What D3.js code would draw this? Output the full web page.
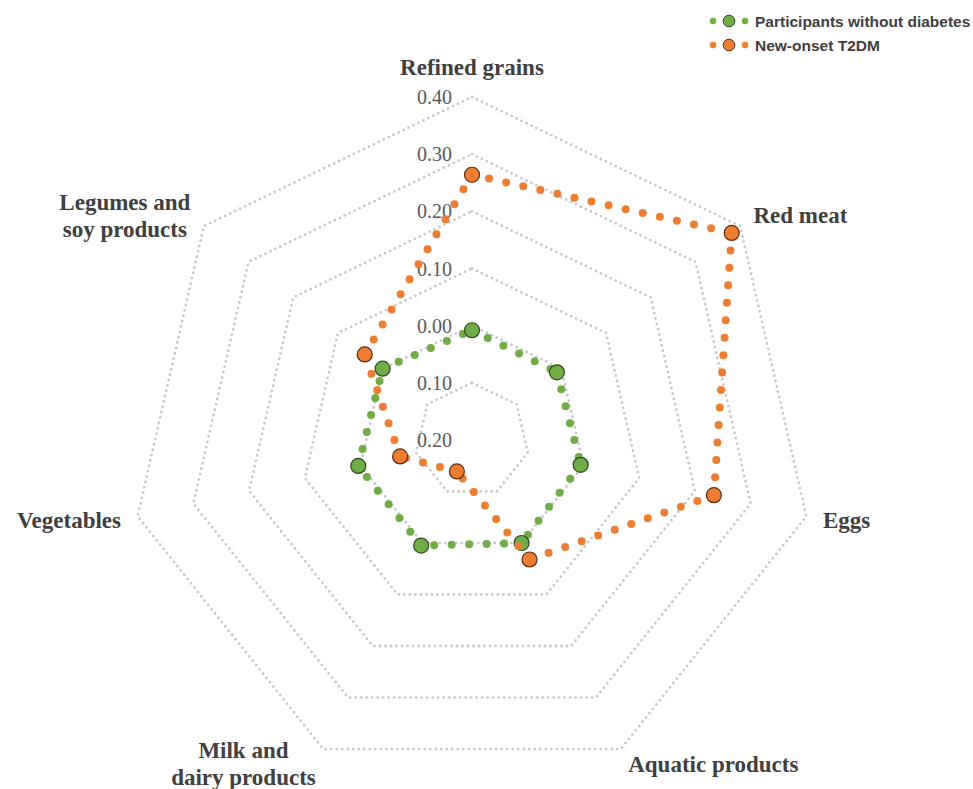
<!DOCTYPE html>
<html>
<head>
<meta charset="utf-8">
<title>Dietary radar</title>
<script src="https://d3js.org/d3.v7.min.js"></script>
<style>
    body { margin: 0; background: #fff; }
    .cat { font-family: "Liberation Serif", "Times New Roman", serif; font-weight: bold; font-size: 23px; fill: #404040; }
    .tick { font-family: "Liberation Serif", "Times New Roman", serif; font-size: 20px; fill: #595959; }
    .legend text { font-family: "Liberation Sans", Arial, sans-serif; font-weight: bold; font-size: 15.5px; fill: #404040; }
</style>
</head>
<body>
<svg width="973" height="789"></svg>
<script>
const categories = ["Refined grains", "Red meat", "Eggs", "Aquatic products",
    "Milk and\ndairy products", "Vegetables", "Legumes and\nsoy products"];
const seriesNames = ["Participants without diabetes", "New-onset T2DM"];
const withoutDiabetes = [-0.008, -0.010, -0.005, 0.000, 0.005, 0.004, 0.000];
const newOnsetT2DM = [0.264, 0.381, 0.234, 0.032, -0.139, -0.071, 0.040];
const tickValues = [-0.2, -0.1, 0.0, 0.1, 0.2, 0.3, 0.4];

const width = 973, height = 789;
const cx = 472, cy = 440, radius = 343;

const colors = ["#70ad47", "#ed7d31"];
const outlines = ["#2c4a1c", "#5c2a0c"];

const svg = d3.select("svg");

const r = d3.scaleLinear().domain([-0.2, 0.4]).range([0, radius]);
const angle = d3.scaleLinear().domain([0, categories.length]).range([0, 2 * Math.PI]);

function pt(i, v) {
    const a = angle(i);
    return [cx + r(v) * Math.sin(a), cy - r(v) * Math.cos(a)];
}

// grid rings
const ringLine = d3.line().curve(d3.curveLinearClosed);
svg.append("g").selectAll("path")
    .data(tickValues.filter(v => v > -0.2))
    .enter().append("path")
    .attr("d", v => ringLine(categories.map((c, i) => pt(i, v))))
    .attr("fill", "none")
    .attr("stroke", "#c8c8c8")
    .attr("stroke-width", 2.8)
    .attr("stroke-linecap", "round")
    .attr("stroke-dasharray", "0 5.5");

// tick labels (negative values shown without sign)
svg.append("g").selectAll("text")
    .data(tickValues)
    .enter().append("text")
    .attr("class", "tick")
    .attr("x", cx - 20)
    .attr("y", v => cy - r(v))
    .attr("dy", "0.35em")
    .attr("text-anchor", "end")
    .text(v => Math.abs(v).toFixed(2));

// category labels
const catG = svg.append("g");
categories.forEach(function(c, i) {
    const a = angle(i);
    const s = Math.sin(a), co = Math.cos(a);
    const px = cx + (radius + 17) * s;
    const py = cy - (radius + 17) * co;
    const g = catG.append("g");
    const t = g.append("text").attr("class", "cat").attr("text-anchor", "middle");
    c.split("\n").forEach(function(line, k) {
        t.append("tspan").attr("x", 0).attr("y", k * 27).text(line);
    });
    const bb = g.node().getBBox();
    let tx, ty;
    if (Math.abs(s) < 0.05) tx = px - (bb.x + bb.width / 2);
    else if (s > 0) tx = px - bb.x;
    else tx = px - (bb.x + bb.width);
    const midY = bb.y + bb.height / 2;
    if (Math.abs(s) < 0.05) ty = py - co * bb.height / 2 - midY;
    else ty = py - midY;
    g.attr("transform", "translate(" + tx + "," + ty + ")");
});

// series
[withoutDiabetes, newOnsetT2DM].forEach(function(values, si) {
    const g = svg.append("g");
    const pts = values.map((v, i) => pt(i, v));
    g.selectAll("line")
        .data(pts)
        .enter().append("line")
        .attr("x1", d => d[0]).attr("y1", d => d[1])
        .attr("x2", (d, i) => pts[(i + 1) % pts.length][0])
        .attr("y2", (d, i) => pts[(i + 1) % pts.length][1])
        .attr("stroke", colors[si])
        .attr("stroke-width", 8)
        .attr("stroke-linecap", "round")
        .attr("stroke-dasharray", "0 17.5");
    g.selectAll("circle")
        .data(pts)
        .enter().append("circle")
        .attr("cx", d => d[0]).attr("cy", d => d[1])
        .attr("r", 7.5)
        .attr("fill", colors[si])
        .attr("stroke", outlines[si])
        .attr("stroke-width", 1.2);
});

// legend
const legend = svg.append("g").attr("class", "legend");
seriesNames.forEach(function(name, si) {
    const y = 21 + si * 24;
    const row = legend.append("g");
    [713, 745].forEach(x => row.append("circle")
        .attr("cx", x).attr("cy", y).attr("r", 3.2).attr("fill", colors[si]));
    row.append("circle").attr("cx", 729).attr("cy", y).attr("r", 5.8)
        .attr("fill", colors[si]).attr("stroke", outlines[si]).attr("stroke-width", 1);
    row.append("text").attr("x", 755).attr("y", y).attr("dy", "0.36em").text(name);
});
</script>
</body>
</html>
